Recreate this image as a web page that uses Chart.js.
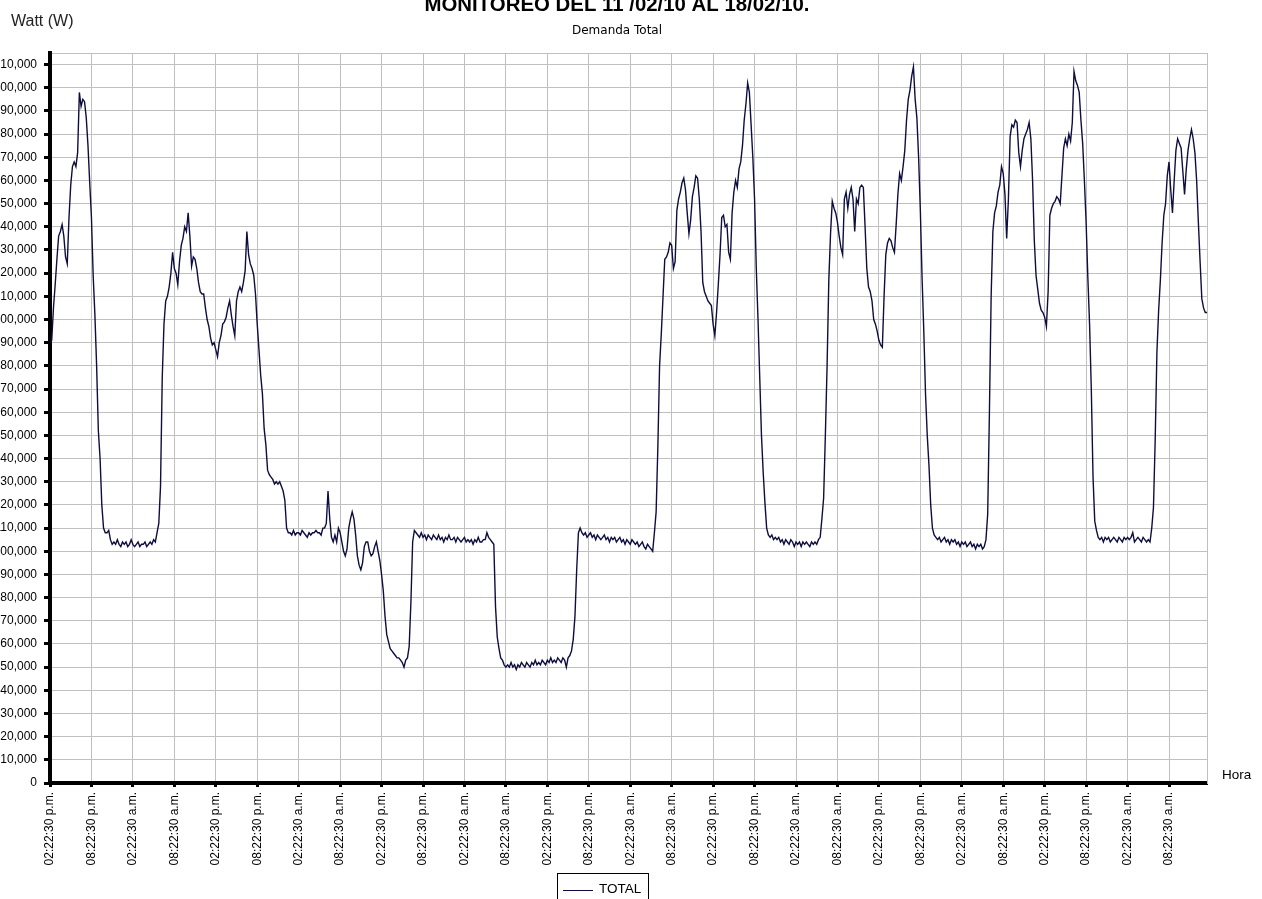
<!DOCTYPE html>
<html><head><meta charset="utf-8">
<script src="https://cdn.jsdelivr.net/npm/chart.js@4.4.1/dist/chart.umd.min.js"></script>
<style>html,body{margin:0;padding:0;background:#fff;overflow:hidden}canvas{display:block}</style>
</head><body><canvas id="c" width="1262" height="899"></canvas>
<script>
const chartTitle = 'MONITOREO DEL 11 /02/10 AL 18/02/10.';
const chartSubtitle = 'Demanda Total';
const yAxisTitle = 'Watt (W)';
const xAxisTitle = 'Hora';
const seriesName = 'TOTAL';
const startMinutes = 14 * 60 + 22;   // 02:22:30 p.m., 11/02/10
const stepMinutes = 15;
const tickEvery = 24;                 // one labelled tick every 6 hours

// demand in kW, one reading every 15 minutes
const demandKW = [
/*0*/   190,191,205,215,226,236,238,241,236,227,
/*10*/  224,244,258,266,268,266,272,298,292,295,
/*20*/  294,287,275,259,244,219,202,180,152,140,
/*30*/  120,110,108,108,109,105,103,
/*37*/  104,103,105,103,102,104,103,104,102,103,105,103,102,103,104,102,103,103,104,102,103,104,103,105,104,
/*62*/  108,112,128,175,198,208,210,214,
/*70*/  220,229,222,220,215,225,232,235,240,238,
/*80*/  246,236,223,227,226,222,216,212,211,211,
/*90*/  205,200,197,192,189,190,187,184,190,193,
/*100*/ 198,199,201,205,208,202,197,193,208,212,
/*110*/ 214,212,216,221,238,228,224,222,219,211,
/*120*/ 198,187,176,168,153,146,135,133,132,131,
/*130*/ 129,130,129,130,128,126,122,110,108,
/*139*/ 108,107,109,107,108,108,107,109,108,107,106,108,107,108,108,109,108,108,107,110,
/*159*/ 110,112,126,114,106,104,107,104,110,
/*168*/ 108,104,100,
/*171*/ 98,101,110,114,117,114,107,98,94,
/*180*/ 92,95,102,104,104,100,98,99,102,104,
/*190*/ 100,96,90,83,72,64,61,58,57,56,
/*200*/ 55,54,54,53,52,50,53,54,59,78,
/*210*/ 104,109,108,
/*213*/ 107,106,108,106,107,105,107,106,105,107,
        106,105,107,105,106,104,106,105,107,105,
        105,106,104,106,105,104,105,106,104,105,
        104,105,103,105,104,106,104,104,105,105,
/*253*/ 108,106,105,104,103,
/*258*/ 76,63,58,54,53,51,50,
/*265*/ 51,50,52,50,51,49,51,50,52,51,
        50,52,51,50,52,51,53,51,52,51,
        53,52,51,53,52,54,52,53,52,54,
        53,52,54,53,50,54,
/*301*/ 55,57,62,72,92,108,110,108,
/*309*/ 107,108,106,107,108,106,107,105,107,106,
        105,106,107,105,106,104,106,105,106,104,
        105,106,104,105,103,105,104,103,105,104,
        103,104,102,103,104,102,101,103,102,101,100,
/*350*/ 108,117,145,180,194,210,226,227,229,233,
/*360*/ 232,222,225,247,252,255,259,261,256,246,
/*370*/ 237,243,253,257,262,261,252,238,216,212,
/*380*/ 210,208,207,206,198,193,203,215,228,244,
/*390*/ 245,240,241,229,226,246,255,260,257,265,
/*400*/ 268,275,286,293,302,298,284,270,252,222,
/*410*/ 200,175,150,134,121,110,107,
/*417*/ 106,107,105,106,105,106,104,105,103,105,
        104,103,105,104,102,104,103,104,102,104,
        103,104,103,102,104,103,104,103,105,
/*446*/ 106,114,123,150,
/*450*/ 180,217,237,251,248,246,242,236,231,228,
/*460*/ 252,255,248,254,257,252,238,252,250,257,
/*470*/ 258,257,240,222,214,212,208,200,198,195,
/*480*/ 191,189,188,210,228,233,235,234,231,229,
/*490*/ 241,254,263,260,266,273,286,295,299,305,
/*500*/ 309,295,287,270,247,218,195,168,150,137,
/*510*/ 120,110,107,
/*513*/ 106,105,106,104,105,106,104,105,103,105,
        104,105,103,104,102,104,103,104,102,103,
        104,102,103,101,103,102,103,101,102,
/*542*/ 105,116,160,210,238,246,249,255,
/*550*/ 258,266,263,254,235,252,279,284,283,286,
/*560*/ 285,272,266,273,278,280,282,285,278,260,
/*570*/ 234,219,213,207,204,203,201,197,212,245,
/*580*/ 248,250,251,253,252,250,262,274,278,275,
/*590*/ 280,277,285,307,303,301,298,286,276,260,
/*600*/ 242,218,198,170,132,113,109,106,
/*608*/ 105,106,104,106,105,106,104,105,106,105,
        104,106,105,104,106,105,106,105,106,108,
        104,105,106,105,104,106,105,104,105,104,
/*638*/ 110,119,148,186,204,217,233,245,250,262,268,256,
/*650*/ 246,260,273,278,276,274,264,254,265,273,
/*660*/ 278,282,278,272,260,242,225,209,205,203,203
];

const yMin = 0, yMax = 315000, yStep = 10000, yLastTick = 310000;
const yTickValues = [];
for (let v = yMin; v <= yLastTick; v += yStep) yTickValues.push(v);

function fmtTime(mins) {
  const m = ((mins % 1440) + 1440) % 1440;
  let h = Math.floor(m / 60);
  const mm = m % 60;
  const suffix = h < 12 ? 'a.m.' : 'p.m.';
  h = h % 12; if (h === 0) h = 12;
  const p = n => String(n).padStart(2, '0');
  return p(h) + ':' + p(mm) + ':30 ' + suffix;
}
const categories = demandKW.map((_, i) => fmtTime(startMinutes + i * stepMinutes));
const demandW = demandKW.map(v => v * 1000);

const FONT = '"Liberation Sans", Arial, sans-serif';
const GRID = '#c0c0c0';
const LINE = '#0d0d40';

const extras = {
  id: 'extras',
  afterDraw(chart) {
    const ctx = chart.ctx;
    ctx.save();
    ctx.textAlign = 'left';
    ctx.textBaseline = 'alphabetic';
    ctx.fillStyle = '#222';
    ctx.font = '16px ' + FONT;
    ctx.fillText(yAxisTitle, 11, 26);
    ctx.font = '13.5px ' + FONT;
    ctx.fillStyle = '#000';
    ctx.fillText(xAxisTitle, 1222, 779);
    // legend box
    const ds = chart.data.datasets[0];
    ctx.strokeStyle = '#000';
    ctx.lineWidth = 1;
    ctx.strokeRect(557.5, 873.5, 91, 40);
    ctx.strokeStyle = ds.borderColor;
    ctx.beginPath(); ctx.moveTo(563, 890.5); ctx.lineTo(593, 890.5); ctx.stroke();
    ctx.fillStyle = '#000';
    ctx.font = '13.5px ' + FONT;
    ctx.fillText(ds.label, 599, 893);
    ctx.restore();
  }
};

new Chart(document.getElementById('c'), {
  type: 'line',
  data: {
    labels: categories,
    datasets: [{
      label: seriesName,
      data: demandW,
      borderColor: LINE,
      borderWidth: 1.4,
      pointRadius: 0,
      tension: 0,
      fill: false
    }]
  },
  options: {
    responsive: false,
    animation: false,
    devicePixelRatio: 1,
    layout: { padding: { left: 0, right: 28, top: 0, bottom: 0 } },
    plugins: {
      legend: { display: false },
      tooltip: { enabled: false },
      title: {
        display: true, text: chartTitle, color: '#000',
        font: { family: FONT, size: 20.4, weight: 'bold', lineHeight: 0.5 },
        padding: { top: 0, bottom: 10 }
      },
      subtitle: {
        display: true, text: chartSubtitle, color: '#000',
        font: { family: '"DejaVu Sans", sans-serif', size: 12, lineHeight: 1.2 },
        padding: { top: 3.6, bottom: 0 }
      }
    },
    scales: {
      x: {
        type: 'category', position: 'bottom', offset: false,
        grid: {
          color: c => (c.index % tickEvery === 0 ? GRID : 'rgba(0,0,0,0)'),
          tickColor: c => (c.index % tickEvery === 0 ? '#000' : 'rgba(0,0,0,0)'),
          lineWidth: 1, tickLength: 4, tickWidth: 3
        },
        border: { display: true, color: '#000', width: 4 },
        ticks: {
          autoSkip: false, maxRotation: 90, minRotation: 90, padding: 5,
          color: '#000', font: { family: FONT, size: 12 },
          callback: (v, i) => (i % tickEvery === 0 ? categories[i] : '')
        },
        afterFit: s => { s.height = 116; }
      },
      xTop: {
        type: 'category', position: 'top',
        grid: { display: false },
        border: { display: true, color: GRID, width: 1 },
        ticks: { display: false },
        afterFit: s => { s.height = 14.8; }
      },
      y: {
        type: 'linear', position: 'left', min: yMin, max: yMax,
        grid: { color: GRID, lineWidth: 1, tickColor: '#000', tickLength: 6, tickWidth: 3 },
        border: { display: true, color: '#000', width: 4 },
        ticks: {
          padding: 7, color: '#000',
          font: { family: FONT, size: 12 },
          callback: v => Number(v).toLocaleString('en-US')
        },
        afterBuildTicks: s => { s.ticks = yTickValues.map(v => ({ value: v })); },
        afterFit: s => { s.width = 50; }
      },
      yRight: {
        type: 'linear', position: 'right', min: yMin, max: yMax,
        grid: { display: false },
        border: { display: true, color: GRID, width: 1 },
        ticks: { display: false },
        afterFit: s => { s.width = 27; }
      }
    }
  },
  plugins: [extras]
});
</script>
</body></html>
